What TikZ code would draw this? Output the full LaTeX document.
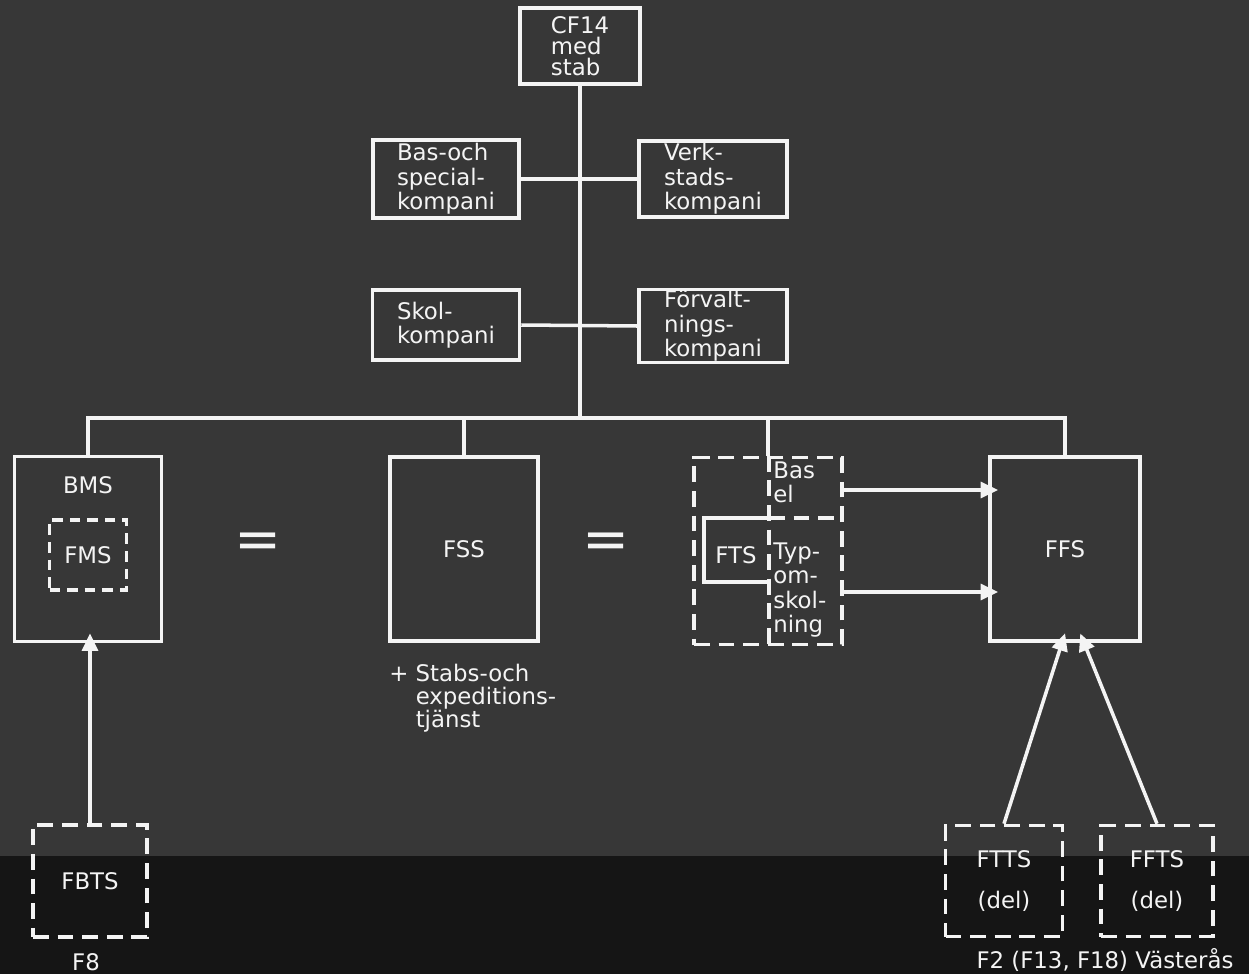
\documentclass[tikz,border=0pt]{standalone}
\usepackage{fontspec}
\setmainfont{DejaVu Sans}
\usepackage{xcolor}
\usetikzlibrary{arrows.meta,positioning,calc}
\definecolor{Board}{HTML}{373737}
\definecolor{Band}{HTML}{151515}
\definecolor{Chalk}{HTML}{F4F4F4}

\begin{document}
\begin{tikzpicture}[x=0.02cm,y=-0.02cm,
  every node/.style={font=\fontsize{13}{14}\selectfont,align=left,text=Chalk,inner sep=0pt},
  orgbox/.style 2 args={draw=Chalk,line width=2pt,minimum width=#1*0.02cm,minimum height=#2*0.02cm},
  dashbox/.style 2 args={orgbox={#1}{#2},dash pattern=on 9pt off 5pt},
  wire/.style={draw=Chalk,line width=2pt},
  dashwire/.style={wire,dash pattern=on 9pt off 5pt},
  feed/.style={wire,-{Triangle[width=9pt,length=10pt]},shorten >=-0.2cm}]
  \useasboundingbox (0,0) rectangle (1249,974);
  \fill[Board] (0,0) rectangle (1249,856);
  \fill[Band] (0,856) rectangle (1249,974);

  % staff and companies
  \node[orgbox={120}{76},font=\fontsize{13}{12}\selectfont] (cf) at (580,46) {CF14\\med\\stab};
  \foreach \name/\px/\py/\w/\h/\txt in {bas/446/179/146/78/{Bas-och\\special-\\kompani},
      verk/713/179/148/76/{Verk-\\stads-\\kompani},
      skol/446/325/147/70/{Skol-\\kompani},
      forv/713/326/148/73/{Förvalt-\\nings-\\kompani}}{
    \node[orgbox={\w}{\h}] (\name) at (\px,\py) {\txt};
  }
  \draw[wire] (bas.east) -- (verk.west);
  \draw[wire] (skol.east) -- (forv.west);

  % schools
  \node[orgbox={147}{185}] (bms) at (88,549) {};
  \node (bmslbl) at (88,485) {BMS};
  \node[dashbox={77}{70},dash pattern=on 6pt off 4pt] (fms) at (88,555) {FMS};
  \node[orgbox={148}{184}] (fss) at (464,549) {FSS};
  \node[dashbox={148}{187}] (ftsg) at (768,551) {};
  \node[orgbox={150}{184}] (ffs) at (1065,549) {FFS};
  \node[font=\fontsize{32}{32}\selectfont] (eqa) at (258,546) {=};
  \node[font=\fontsize{32}{32}\selectfont] (eqb) at (606,546) {=};

  \coordinate (bus) at (580,418);
  \coordinate (busl) at (88,418);
  \coordinate (busr) at (1065,418);
  \draw[wire] (cf.south) -- (bus);
  \draw[wire,line cap=rect] (busl) -- (busr);
  \foreach \n in {bms,fss,ftsg,ffs}
    \draw[wire] (\n.north) -- (\n.north |- bus);

  % FTS split
  \coordinate (split) at (769,518);
  \draw[dashwire] (ftsg.north -| split) -- (ftsg.south -| split);
  \draw[dashwire] (split) -- (split -| ftsg.east);
  \draw[wire] (split) -| (704,582) -- (769,582);
  \node (fts) at (736,555) {FTS};
  \node[anchor=north west] (basel) at (773,461) {Bas\\el};
  \node[anchor=north west] (typ) at (773,542) {Typ-\\om-\\skol-\\ning};
  \coordinate (ela) at (ftsg.east |- 0,490);
  \coordinate (elb) at (ftsg.east |- 0,592);
  \draw[feed] (ela) -- (ela -| ffs.west);
  \draw[feed] (elb) -- (elb -| ffs.west);

  \node[anchor=north west,font=\fontsize{13}{13}\selectfont] (stabs) at (389,664)
    {+ Stabs-och\\\hphantom{+ }expeditions-\\\hphantom{+ }tjänst};

  % feeding units
  \node[dashbox={114}{112}] (fbts) at (90,881) {FBTS};
  \node[dashbox={117}{111},align=center] (ftts) at (1004,881) {FTTS\\[9pt](del)};
  \node[dashbox={112}{111},align=center] (ffts) at (1157,881) {FFTS\\[9pt](del)};
  \draw[feed] (fbts.north) -- (fbts.north |- bms.south);
  \draw[feed] (ftts.north) -- ($(ffs.south)+(-3,0)$);
  \draw[feed] (ffts.north) -- ($(ffs.south)+(19,0)$);
  \node (f8) at (86,962) {F8};
  \node (f2) at (1105,960) {F2 (F13, F18) Västerås};
\end{tikzpicture}
\end{document}
